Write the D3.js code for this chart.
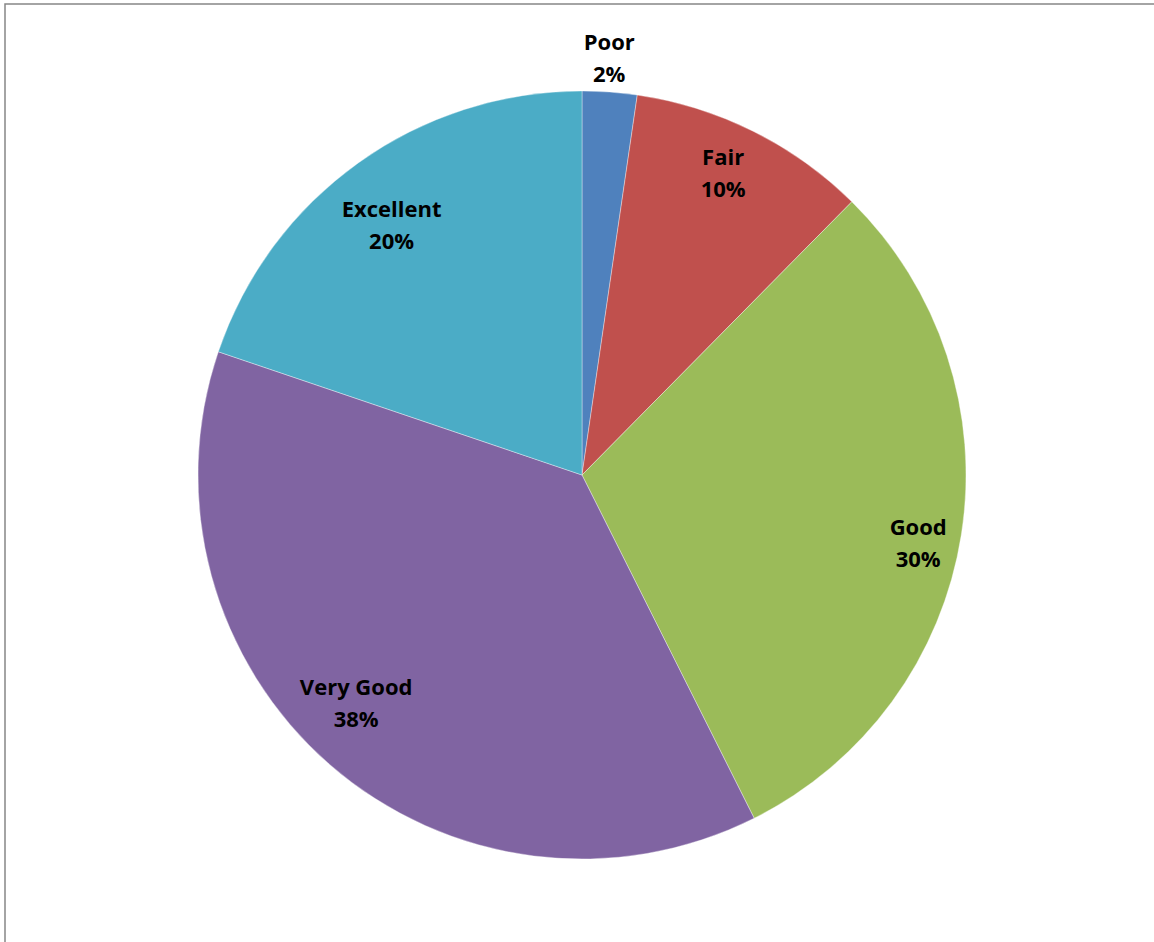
<!DOCTYPE html>
<html><head><meta charset="utf-8">
<script src="https://cdn.jsdelivr.net/npm/d3@7"></script>
<style>html,body{margin:0;padding:0;background:#fff;overflow:hidden}</style>
</head><body>
<svg id="chart" width="1154" height="942"></svg>
<script>
const categories = ["Poor", "Fair", "Good", "Very Good", "Excellent"];
const values = [2.3, 10.1, 30.2, 37.6, 19.8];
const pctLabels = ["2%", "10%", "30%", "38%", "20%"];
const colors = ["#4F81BD", "#C0504D", "#9BBB59", "#8064A2", "#4BACC6"];
// label placement: radius fraction and small nudges (layout only)
const labelRadius = [1.09, 0.86, 0.86, 0.86, 0.86];
const labelNudge = [[-3,-1],[-6,-7],[10,15],[-9,-22],[2,17]];

const svg = d3.select("#chart");
const cx = 582, cy = 475, R = 384;

// outer frame (partially off-canvas)
svg.append("rect").attr("x",5).attr("y",4).attr("width",1200).attr("height",1000)
  .attr("fill","none").attr("stroke","#868686").attr("stroke-width",1.5);

const data = categories.map((c,i)=>({cat:c, v:values[i], lab:pctLabels[i], i}));
const pie = d3.pie().value(d=>d.v).sort(null);
const arcs = pie(data);
const arc = d3.arc().innerRadius(0).outerRadius(R);
const color = d3.scaleOrdinal().domain(categories).range(colors);

const g = svg.append("g").attr("transform",`translate(${cx},${cy})`);
g.selectAll("path").data(arcs).enter().append("path")
  .attr("d",arc).attr("fill",d=>color(d.data.cat))
  .attr("stroke","#ffffff").attr("stroke-width",0.6).attr("stroke-opacity",0.6);

const labs = g.selectAll("text.lab").data(arcs).enter().append("text")
  .attr("class","lab")
  .attr("transform",d=>{
    const a=(d.startAngle+d.endAngle)/2, r=R*labelRadius[d.data.i];
    const n=labelNudge[d.data.i];
    return `translate(${Math.sin(a)*r+n[0]},${-Math.cos(a)*r+n[1]})`;
  })
  .attr("text-anchor","middle")
  .style("font-family","'Open Sans', 'Noto Sans', sans-serif")
  .style("font-weight","bold").style("font-size","22px").attr("fill","#000");
labs.append("tspan").attr("x",0).attr("y",-7).text(d=>d.data.cat);
labs.append("tspan").attr("x",0).attr("y",25).text(d=>d.data.lab);
</script>
</body></html>
